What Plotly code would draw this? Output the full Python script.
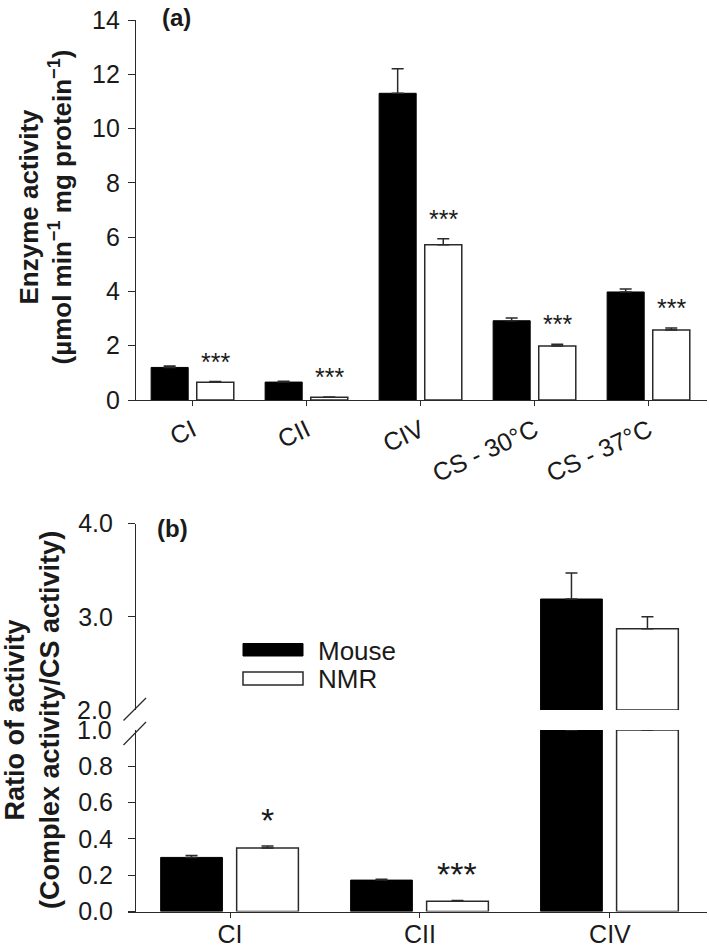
import plotly.graph_objects as go

W, H = 709, 950

# ---------------- data ----------------
# Panel (a): enzyme activity
cats_a = ["CI", "CII", "CIV", "CS - 30°C", "CS - 37°C"]
mouse_a = [1.20, 0.66, 11.30, 2.92, 3.98]
mouse_a_err = [0.05, 0.03, 0.90, 0.10, 0.11]
nmr_a = [0.65, 0.10, 5.72, 1.99, 2.58]
nmr_a_err = [0.03, 0.01, 0.22, 0.06, 0.07]
sig_a = ["***", "***", "***", "***", "***"]
yticks_a = [0, 2, 4, 6, 8, 10, 12, 14]

# Panel (b): ratio of activity (broken axis)
cats_b = ["CI", "CII", "CIV"]
mouse_b = [0.298, 0.173, 3.19]
mouse_b_err = [0.011, 0.005, 0.28]
nmr_b = [0.350, 0.057, 2.87]
nmr_b_err = [0.011, 0.004, 0.13]
sig_b = ["*", "***", ""]
yticks_b_low = [0.0, 0.2, 0.4, 0.6, 0.8]
yticks_b_high = [3.0, 4.0]
break_vals = [2.0, 1.0]           # lower axis top / upper axis bottom
break_text = ["2.0", "1.0"]

series_names = ["Mouse", "NMR"]

# ---------------- styling helpers ----------------
FONT = "Arial, Liberation Sans, sans-serif"
AX = "#2a2a2a"
TXT = "#1a1a1a"
BAR_W = 0.325
OFF_M = -0.365
OFF_N = 0.035
NMR_CENTER = OFF_N + BAR_W / 2
LOW_TOP, HIGH_BOT = break_vals[1], break_vals[0]


def fx(px):
    return px / W


def fy(py):
    return 1 - py / H


def err(arr):
    return dict(type="data", symmetric=False, array=arr, arrayminus=[0] * len(arr),
                color=AX, thickness=1.5, width=6)


MOUSE_MK = dict(color="black", line=dict(color="black", width=1))
NMR_MK = dict(color="white", line=dict(color=AX, width=1.5))

fig = go.Figure()

# panel a bars
fig.add_trace(go.Bar(x=cats_a, y=mouse_a, name=series_names[0], width=BAR_W, offset=OFF_M,
                     marker=MOUSE_MK, error_y=err(mouse_a_err), xaxis="x", yaxis="y",
                     showlegend=False))
fig.add_trace(go.Bar(x=cats_a, y=nmr_a, name=series_names[1], width=BAR_W, offset=OFF_N,
                     marker=NMR_MK, error_y=err(nmr_a_err), xaxis="x", yaxis="y",
                     showlegend=False))

# panel b: lower segment (0 .. 1.0) – bars taller than the break are cut at the break
for vals, errs, off, mk, nm in [(mouse_b, mouse_b_err, OFF_M, MOUSE_MK, series_names[0]),
                                (nmr_b, nmr_b_err, OFF_N, NMR_MK, series_names[1])]:
    low_y = [min(v, LOW_TOP) for v in vals]
    low_e = [e if v <= LOW_TOP else 0 for v, e in zip(vals, errs)]
    fig.add_trace(go.Bar(x=cats_b, y=low_y, name=nm, width=BAR_W, offset=off, marker=mk,
                         error_y=err(low_e), xaxis="x2", yaxis="y2", showlegend=False,
                         customdata=vals, hovertemplate="%{x}: %{customdata}<extra>" + nm + "</extra>"))
    # upper segment (2.0 .. 4.0) – only bars that reach above the break
    hi_y = [v - HIGH_BOT if v > HIGH_BOT else None for v in vals]
    hi_e = [e if v > HIGH_BOT else 0 for v, e in zip(vals, errs)]
    fig.add_trace(go.Bar(x=cats_b, y=hi_y, base=HIGH_BOT, name=nm, width=BAR_W, offset=off,
                         marker=mk, error_y=err(hi_e), xaxis="x2", yaxis="y3", showlegend=False,
                         customdata=vals, hovertemplate="%{x}: %{customdata}<extra>" + nm + "</extra>"))

tickfont = dict(family=FONT, size=25, color=TXT)
common_y = dict(showline=True, linecolor=AX, linewidth=1.2, ticks="outside", ticklen=7,
                tickwidth=1.2, tickcolor=AX, showgrid=False, zeroline=False, automargin=False,
                tickfont=tickfont, anchor="free", position=fx(135))
common_x = dict(showline=True, linecolor=AX, linewidth=1.2, ticks="outside", ticklen=5,
                tickwidth=1.2, tickcolor=AX, showgrid=False, zeroline=False, automargin=False,
                tickfont=tickfont)

fig.update_layout(
    template="none",
    width=W, height=H, margin=dict(l=0, r=0, t=0, b=0, pad=0, autoexpand=False),
    paper_bgcolor="white", plot_bgcolor="white", barmode="overlay",
    font=dict(family=FONT, color=TXT),
    xaxis=dict(domain=[fx(128), fx(707)], range=[-0.568, 4.511], anchor="y",
               tickangle=-25, **common_x),
    yaxis=dict(domain=[fy(400), fy(20)], range=[0, 14], tickmode="array",
               tickvals=yticks_a, ticklabelstandoff=3, **common_y),
    xaxis2=dict(domain=[fx(128), fx(707)], range=[-0.537, 2.511], anchor="y2",
                tickangle=0, ticklabelstandoff=-5, **common_x),
    yaxis2=dict(domain=[fy(911.5), fy(730)], range=[0, LOW_TOP], tickmode="array",
                tickvals=yticks_b_low, tickformat=".1f", ticklabelstandoff=10, **common_y),
    yaxis3=dict(domain=[fy(710), fy(523.5)], range=[HIGH_BOT, 4], tickmode="array",
                tickvals=yticks_b_high, tickformat=".1f", ticklabelstandoff=10, **common_y),
)

ann = []
# significance stars
for i, s in enumerate(sig_a):
    ann.append(dict(x=i + NMR_CENTER, y=nmr_a[i] + nmr_a_err[i], xref="x", yref="y",
                    text=s, showarrow=False, xanchor="center", yanchor="bottom", yshift=4,
                    font=dict(family=FONT, size=25, color=TXT)))
for i, s in enumerate(sig_b):
    if s:
        ann.append(dict(x=i + NMR_CENTER, y=nmr_b[i] + nmr_b_err[i], xref="x2", yref="y2",
                        text=s, showarrow=False, xanchor="center", yanchor="bottom", yshift=5,
                        font=dict(family=FONT, size=34, color=TXT)))
# broken-axis labels
for v, t, yr in zip(break_vals, break_text, ["y3", "y2"]):
    ann.append(dict(x=fx(114), y=v, xref="paper", yref=yr, text=t, showarrow=False,
                    xanchor="right", yanchor="middle", font=tickfont))
# panel letters
ann.append(dict(x=fx(176), y=fy(17), xref="paper", yref="paper", text="<b>(a)</b>",
                xanchor="center", yanchor="middle",
                showarrow=False, font=dict(family=FONT, size=24, color=TXT)))
ann.append(dict(x=fx(172), y=fy(528), xref="paper", yref="paper", text="<b>(b)</b>",
                xanchor="center", yanchor="middle",
                showarrow=False, font=dict(family=FONT, size=24, color=TXT)))
# axis titles
ann.append(dict(x=fx(45.5), y=fy(207), xref="paper", yref="paper", textangle=-90,
                xanchor="center", yanchor="middle",
                text="<b>Enzyme activity</b><br><b>(µmol min<sup>−1</sup> mg protein<sup>−1</sup>)</b>",
                showarrow=False, font=dict(family=FONT, size=26, color=TXT)))
ann.append(dict(x=fx(32), y=fy(720), xref="paper", yref="paper", textangle=-90,
                xanchor="center", yanchor="middle",
                text="<b>Ratio of activity</b><br><b>(Complex activity/CS activity)</b>",
                showarrow=False, font=dict(family=FONT, size=27, color=TXT)))
# legend text
ann.append(dict(x=fx(316), y=fy(650.5), xref="paper", yref="paper", text=series_names[0],
                xanchor="left", yanchor="middle", showarrow=False,
                font=dict(family=FONT, size=26, color=TXT)))
ann.append(dict(x=fx(316), y=fy(678.5), xref="paper", yref="paper", text=series_names[1],
                xanchor="left", yanchor="middle", showarrow=False,
                font=dict(family=FONT, size=26, color=TXT)))
fig.update_layout(annotations=ann)

shapes = [
    # legend swatches
    dict(type="rect", xref="paper", yref="paper", x0=fx(243), x1=fx(303), y0=fy(656), y1=fy(643.5),
         fillcolor="black", line=dict(color="black", width=1)),
    dict(type="rect", xref="paper", yref="paper", x0=fx(243), x1=fx(303), y0=fy(685), y1=fy(672),
         fillcolor="white", line=dict(color=AX, width=1.5)),
    # axis break marks
    dict(type="line", xref="paper", yref="paper", x0=fx(123.5), y0=fy(720.5), x1=fx(146), y1=fy(698),
         line=dict(color=AX, width=1.2)),
    dict(type="line", xref="paper", yref="paper", x0=fx(123.5), y0=fy(745), x1=fx(146), y1=fy(722),
         line=dict(color=AX, width=1.2)),
]
fig.update_layout(shapes=shapes)

fig.write_html("out.html", config={"displayModeBar": False},
               post_script="document.body.style.margin='0px';document.body.style.overflow='hidden';")
